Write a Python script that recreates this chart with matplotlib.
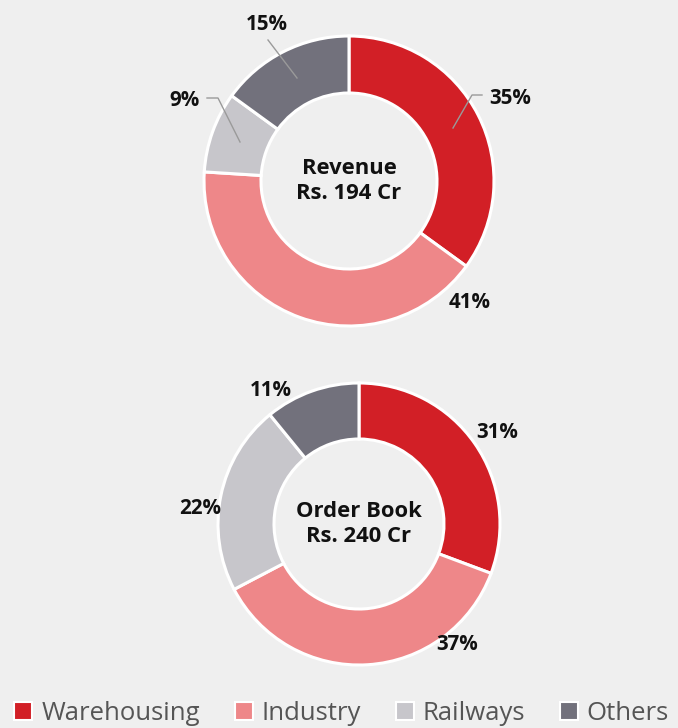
import matplotlib
matplotlib.use("Agg")
import matplotlib.pyplot as plt
from matplotlib.patches import Patch

categories = ["Warehousing", "Industry", "Railways", "Others"]
revenue_share = [35, 41, 9, 15]
orderbook_share = [31, 37, 22, 11]
revenue_title = "Revenue\nRs. 194 Cr"
orderbook_title = "Order Book\nRs. 240 Cr"
colors = ["#D21F26", "#EE8789", "#C7C6CB", "#72717C"]

W, H = 678, 728
fig = plt.figure(figsize=(W / 100, H / 100), dpi=100)
fig.patch.set_facecolor("#EFEFEF")
ax = fig.add_axes([0, 0, 1, 1])

def py(y):
    return H - y

FONT = "Open Sans"

def donut(values, center, r, inner, title, label_pos):
    wedges, _ = ax.pie(values, colors=colors, startangle=90, counterclock=False,
                       center=center, radius=r,
                       wedgeprops=dict(width=r - inner, edgecolor="white", linewidth=2.2))
    ax.text(center[0], center[1], title, ha="center", va="center", fontsize=15.8,
            fontweight="bold", family=FONT, color="#111111", linespacing=1.2)
    for v, (x, y) in zip(values, label_pos):
        ax.text(x, py(y), f"{v}%", ha="center", va="center", fontsize=14.8,
                fontweight="bold", family=FONT, color="#111111")
    return wedges

donut(revenue_share, (349, py(181)), 145, 88, revenue_title,
      [(510, 98), (470, 302), (184, 100), (267, 24)])
donut(orderbook_share, (359, py(524)), 141, 85, orderbook_title,
      [(497, 432), (457, 645), (200, 509), (271, 390)])

ax.set_xlim(0, W)
ax.set_ylim(0, H)
ax.set_aspect("equal")
ax.axis("off")

# leader lines for revenue labels
lc = "#9A9A9A"
ax.plot([453, 472, 482], [py(128), py(95), py(95)], color=lc, lw=1)
ax.plot([297, 268], [py(78), py(40)], color=lc, lw=1)
ax.plot([240, 218, 207], [py(142), py(98), py(98)], color=lc, lw=1)

handles = [Patch(facecolor=c, edgecolor="white", linewidth=1.5) for c in colors]
leg = ax.legend(handles, categories, loc="center", bbox_to_anchor=(0.504, 1 - 713 / H),
                ncol=4, frameon=False, handlelength=0.7, handleheight=0.7,
                handletextpad=0.35, columnspacing=1.35,
                prop={"family": FONT, "size": 18.5})
for t in leg.get_texts():
    t.set_color("#555555")

fig.savefig("out.png", dpi=100, facecolor=fig.get_facecolor())
